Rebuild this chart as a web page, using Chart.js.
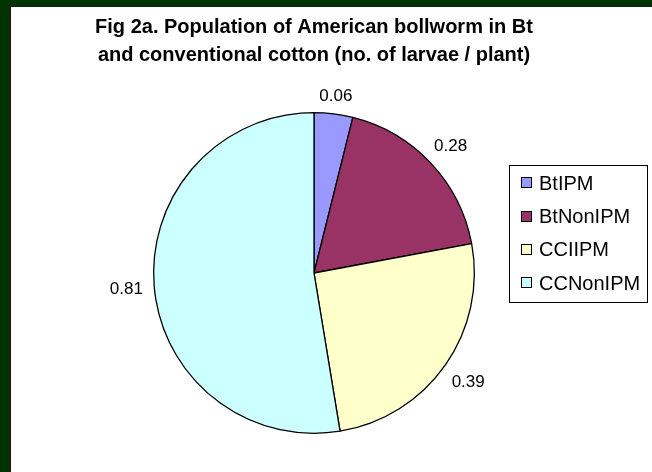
<!DOCTYPE html>
<html>
<head>
<meta charset="utf-8">
<script src="https://cdn.jsdelivr.net/npm/chart.js@4/dist/chart.umd.min.js"></script>
<style>
  html, body { margin: 0; padding: 0; background: #ffffff; }
  #wrap { width: 652px; height: 472px; position: relative; }
  canvas { display: block; }
</style>
</head>
<body>
<div id="wrap"><canvas id="c" width="652" height="472"></canvas></div>
<script>
// Larvae per plant for each cotton system
const categories = ['BtIPM', 'BtNonIPM', 'CCIIPM', 'CCNonIPM'];
const larvaePerPlant = [0.06, 0.28, 0.39, 0.81];
const titleLines = [
  'Fig 2a. Population of American bollworm in Bt',
  'and conventional cotton (no. of larvae / plant)'
];

// Slice fills
const sliceColors = ['#9999FF', '#993366', '#FFFFCC', '#CCFFFF'];

const FONT = '"Liberation Sans", Arial, Helvetica, sans-serif';

// Dark green frame around the white plot area
const framePlugin = {
  id: 'frame',
  beforeDraw(chart) {
    const ctx = chart.ctx;
    const W = chart.width, H = chart.height;
    ctx.save();
    ctx.fillStyle = '#003300';
    ctx.fillRect(0, 0, W, H);
    ctx.fillStyle = '#1c1c1c';
    ctx.fillRect(9, 6, W - 9, H - 6);
    ctx.fillStyle = '#ffffff';
    ctx.fillRect(11, 7, W - 11, H - 7);
    ctx.restore();
  }
};

// Two-line bold title
const titlePlugin = {
  id: 'twoLineTitle',
  afterDraw(chart) {
    const ctx = chart.ctx;
    ctx.save();
    ctx.fillStyle = '#000000';
    ctx.font = 'bold 20px ' + FONT;
    ctx.textAlign = 'center';
    ctx.textBaseline = 'alphabetic';
    titleLines.forEach((line, i) => ctx.fillText(line, 314, 33 + i * 28));
    ctx.restore();
  }
};

// Value labels just outside each slice
const valueLabelPlugin = {
  id: 'valueLabels',
  afterDatasetsDraw(chart) {
    const ctx = chart.ctx;
    const meta = chart.getDatasetMeta(0);
    const size = 17;
    const capH = size * 0.716;
    ctx.save();
    ctx.fillStyle = '#000000';
    ctx.font = size + 'px ' + FONT;
    ctx.textAlign = 'center';
    ctx.textBaseline = 'alphabetic';
    meta.data.forEach((arc, i) => {
      const text = larvaePerPlant[i].toFixed(2);
      const w = ctx.measureText(text).width;
      const mid = (arc.startAngle + arc.endAngle) / 2;
      const c = Math.cos(mid), s = Math.sin(mid);
      const d = arc.outerRadius + 11 + (w / 2) * Math.abs(c) + (capH / 2) * Math.abs(s);
      const x = arc.x + d * c;
      const y = arc.y + d * s;
      ctx.fillText(text, x, y + capH / 2);
    });
    ctx.restore();
  }
};

// Boxed legend on the right
const boxLegendPlugin = {
  id: 'boxLegend',
  afterDraw(chart) {
    const ctx = chart.ctx;
    const left = 509.5, top = 165.5, right = 647.5, bottom = 302.5;
    const rowH = 33.3, firstRow = 182.7;
    ctx.save();
    ctx.fillStyle = '#ffffff';
    ctx.fillRect(left, top, right - left, bottom - top);
    ctx.strokeStyle = '#000000';
    ctx.lineWidth = 1;
    ctx.strokeRect(left, top, right - left, bottom - top);
    ctx.font = '20px ' + FONT;
    ctx.textAlign = 'left';
    ctx.textBaseline = 'alphabetic';
    categories.forEach((name, i) => {
      const cy = firstRow + i * rowH;
      ctx.fillStyle = sliceColors[i];
      ctx.fillRect(521, Math.round(cy - 5.5), 11, 11);
      ctx.strokeStyle = '#000000';
      ctx.lineWidth = 1;
      ctx.strokeRect(521.5, Math.round(cy - 5.5) + 0.5, 10, 10);
      ctx.fillStyle = '#000000';
      ctx.fillText(name, 539, cy + 20 * 0.716 / 2);
    });
    ctx.restore();
  }
};

new Chart(document.getElementById('c'), {
  type: 'pie',
  data: {
    labels: categories,
    datasets: [{
      data: larvaePerPlant,
      backgroundColor: sliceColors,
      borderColor: '#000000',
      borderWidth: 1.3
    }]
  },
  options: {
    responsive: false,
    devicePixelRatio: 1,
    animation: false,
    layout: { padding: { left: 153, right: 177, top: 112, bottom: 38 } },
    plugins: {
      legend: { display: false },
      title: { display: false },
      tooltip: { enabled: false }
    }
  },
  plugins: [framePlugin, valueLabelPlugin, titlePlugin, boxLegendPlugin]
});
</script>
</body>
</html>
